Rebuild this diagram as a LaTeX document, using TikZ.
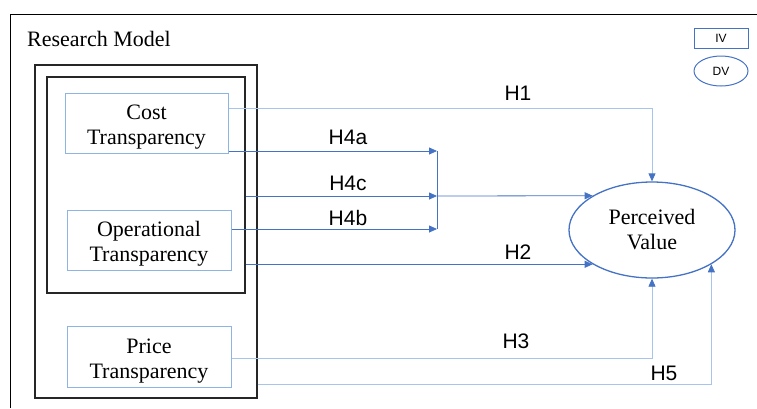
\documentclass[tikz,border=0pt]{standalone}
\usepackage{fontspec}
\setmainfont{Liberation Serif}
\setsansfont{Liberation Sans}
\usetikzlibrary{shapes.geometric,arrows.meta}
\definecolor{boxblue}{HTML}{8EB4E3}
\definecolor{linkblue}{HTML}{4472C4}
\definecolor{paleblue}{HTML}{A9C4EB}
\newcommand{\boxstrut}{\rule{0pt}{23pt}}

\begin{document}
\begin{tikzpicture}[x=1pt,y=-1pt,
	var/.style={draw=boxblue,line width=1pt,minimum width=164pt,minimum height=60pt,inner sep=0pt,align=center,font=\fontsize{22}{25}\selectfont},
	group/.style={draw=black!85,line width=1.3pt,inner sep=0pt},
	hyp/.style={draw=linkblue,line width=0.8pt,-{Triangle[length=8pt,width=7pt,color=linkblue]}},
	hyplight/.style={hyp,draw=paleblue},
	lbl/.style={font=\sffamily\fontsize{21}{25}\selectfont,inner sep=0pt}]
		\useasboundingbox (0,0) rectangle (757,408);

		\draw[line width=1pt] (10,408) |- (757,14);
		\node[anchor=west,inner sep=0pt,font=\fontsize{22}{25}\selectfont] (title) at (27,39) {Research Model};

		% variables
		\node[group,minimum width=222pt,minimum height=333pt] (outer) at (146,231.5) {};
		\node[group,minimum width=198pt,minimum height=216pt] (inner) at (146,185) {};
		\node[var,minimum width=163pt] (cost) at (146.5,123) {\boxstrut Cost\\Transparency};
		\node[var] (oper) at (149,240) {\boxstrut Operational\\Transparency};
		\node[var,minimum height=61pt] (price) at (149,356.5) {\boxstrut Price\\Transparency};
		\node[ellipse,draw=linkblue,line width=1.3pt,minimum width=166pt,minimum height=96pt,inner sep=0pt,align=center,font=\fontsize{22}{25}\selectfont] (pv) at (652,230) {Perceived\\Value};

		% legend
		\node[draw=linkblue,line width=1pt,minimum width=54pt,minimum height=20pt,inner sep=0pt,font=\sffamily\fontsize{12}{14}\selectfont] (iv) at (721,38) {IV};
		\node[ellipse,draw=linkblue,line width=1pt,minimum width=54pt,minimum height=30pt,inner sep=0pt,font=\sffamily\fontsize{12}{14}\selectfont] (dv) at (721,71) {DV};

		% hypotheses
		\coordinate (r1) at (0,108);
		\coordinate (m4a) at (437,151);
		\coordinate (m4c) at (437,196);
		\coordinate (m4b) at (437,229);
		\coordinate (r3) at (0,358);
		\coordinate (r5) at (0,384);

		\draw[hyplight] (cost.east |- r1) -| (pv.north);
		\draw[hyp] (cost.east |- m4a) -- (m4a);
		\draw[hyp] (inner.east |- m4c) -- (m4c);
		\draw[hyp] (oper.east |- m4b) -- (m4b);
		\draw[draw=linkblue,line width=0.8pt] (m4a) -- (m4b);
		\draw[hyp] (m4c) -- (pv.150);
		\draw[hyp] (inner.east |- pv.210) -- (pv.210);
		\draw[hyplight] (price.east |- r3) -| (pv.south);
		\draw[hyplight] (outer.east |- r5) -| (pv.330);

		\node[lbl] (h1) at (518,93) {H1};
		\node[lbl] (h4a) at (348,137) {H4a};
		\node[lbl] (h4c) at (348,183) {H4c};
		\node[lbl] (h4b) at (348,218) {H4b};
		\node[lbl] (h2) at (518,252) {H2};
		\node[lbl] (h3) at (516,341) {H3};
		\node[lbl] (h5) at (664,373) {H5};
\end{tikzpicture}
\end{document}
